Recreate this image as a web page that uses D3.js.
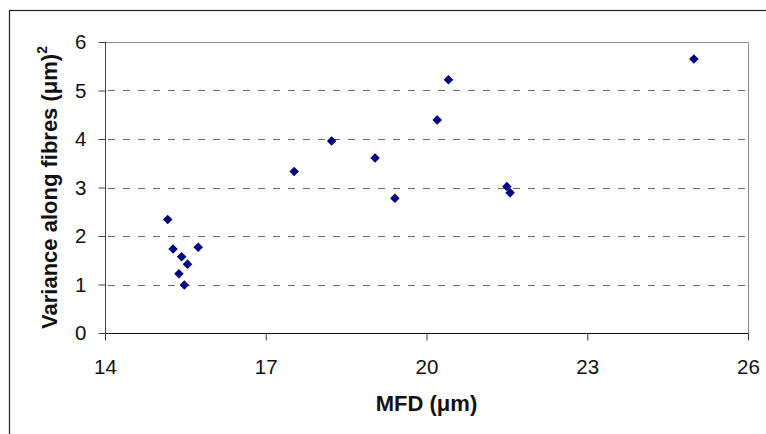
<!DOCTYPE html>
<html>
<head>
<meta charset="utf-8">
<script src="https://cdn.jsdelivr.net/npm/d3@7"></script>
<style>
  body { margin: 0; background: #fff; }
  svg { display: block; font-family: Arial, "Liberation Sans", sans-serif; }
</style>
</head>
<body>
<svg id="chart" width="766" height="434"></svg>
<script>
const mfd = [15.17, 15.27, 15.74, 15.43, 15.54, 15.38, 15.48, 17.53, 18.23, 19.04, 19.41, 20.20, 20.41, 21.50, 21.56, 24.99];
const variance = [2.34, 1.73, 1.77, 1.57, 1.42, 1.22, 0.99, 3.33, 3.96, 3.61, 2.78, 4.39, 5.22, 3.02, 2.89, 5.65];
const xTicks = [14, 17, 20, 23, 26];
const yTicks = [0, 1, 2, 3, 4, 5, 6];
const xTitle = "MFD (\u03bcm)";
const yTitle = "Variance along fibres (\u03bcm)";

const svg = d3.select("#chart");
const pLeft = 105, pRight = 748, pTop = 42, pBottom = 333;
const FS = 20.5, TFS = 22;

// outer frame
svg.append("rect").attr("x", 9.5).attr("y", 10.5).attr("width", 800).attr("height", 800)
  .attr("fill", "none").attr("stroke", "#222").attr("stroke-width", 1.2);

const x = d3.scaleLinear().domain([14, 26]).range([pLeft, pRight]);
const y = d3.scaleLinear().domain([0, 6]).range([pBottom, pTop]);

// gridlines
svg.append("g").selectAll("line").data(yTicks.filter(d => d > 0 && d < 6)).join("line")
  .attr("x1", pLeft).attr("x2", pRight)
  .attr("y1", d => Math.round(y(d)) + 0.5).attr("y2", d => Math.round(y(d)) + 0.5)
  .attr("stroke", "#6a6a6a").attr("stroke-width", 1).attr("stroke-dasharray", "7,8")
  .attr("stroke-dashoffset", -3);

// plot border (top & right)
svg.append("path")
  .attr("d", `M${pLeft},${Math.round(pTop)+0.5}H${pRight+0.5}V${pBottom}`)
  .attr("fill", "none").attr("stroke", "#8a8a8a").attr("stroke-width", 1);

// axes
const xAxis = d3.axisBottom(x).tickValues(xTicks).tickSize(7).tickPadding(19).tickFormat(d3.format("d"));
const gx = svg.append("g").attr("transform", `translate(0,${pBottom + 0.5})`).call(xAxis);
gx.select(".domain").attr("stroke", "#111").attr("d", `M${pLeft},0H${pRight + 0.5}`);
gx.selectAll(".tick line").attr("stroke", "#333");
gx.selectAll(".tick text").attr("font-size", FS).attr("fill", "#111")
  .attr("font-family", "Arial, 'Liberation Sans', sans-serif");

const yAxis = d3.axisLeft(y).tickValues(yTicks).tickSize(7).tickPadding(12).tickFormat(d3.format("d"));
const gy = svg.append("g").attr("transform", `translate(${pLeft + 0.5},0)`).call(yAxis);
gy.select(".domain").attr("stroke", "#444").attr("d", `M0,${pTop}V${pBottom}`);
gy.selectAll(".tick line").attr("stroke", "#444");
gy.selectAll(".tick text").attr("font-size", FS).attr("fill", "#111")
  .attr("font-family", "Arial, 'Liberation Sans', sans-serif");

// points
const diamond = d3.symbol().type(d3.symbolDiamond2).size(58);
svg.append("g").selectAll("path").data(mfd.map((d, i) => [d, variance[i]])).join("path")
  .attr("d", diamond)
  .attr("transform", d => `translate(${x(d[0])},${y(d[1])})`)
  .attr("fill", "#000080");

// titles
svg.append("text").attr("x", (pLeft + pRight) / 2).attr("y", 411)
  .attr("text-anchor", "middle").attr("font-size", TFS).attr("font-weight", "bold").attr("fill", "#111")
  .text(xTitle);

const yt = svg.append("text")
  .attr("transform", `translate(57,${(pTop + pBottom) / 2}) rotate(-90)`)
  .attr("text-anchor", "middle").attr("font-size", TFS).attr("font-weight", "bold").attr("fill", "#111");
yt.append("tspan").text(yTitle);
yt.append("tspan").attr("dy", -10).attr("font-size", 14).text("2");
</script>
</body>
</html>
